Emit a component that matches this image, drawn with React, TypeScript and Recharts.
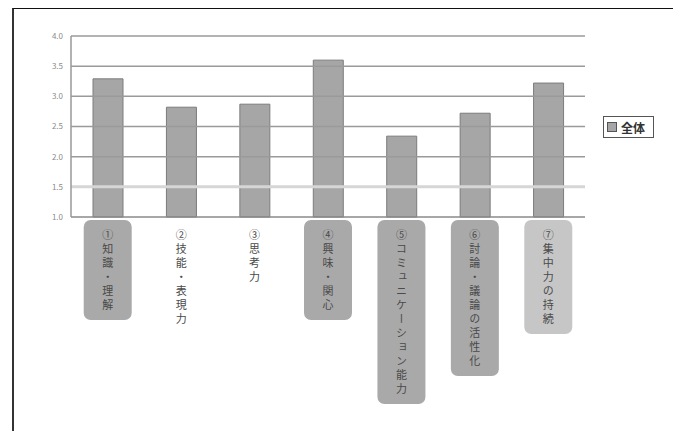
import React from 'react';
import { BarChart, Bar, XAxis, YAxis, ReferenceLine } from 'recharts';

// 評価項目と平均値（全体）
const categories = [
  '①知識・理解',
  '②技能・表現力',
  '③思考力',
  '④興味・関心',
  '⑤コミュニケーション能力',
  '⑥討論・議論の活性化',
  '⑦集中力の持続',
];
const zentai = [3.29, 2.82, 2.87, 3.6, 2.34, 2.72, 3.22];
const yTicks = [1.0, 1.5, 2.0, 2.5, 3.0, 3.5, 4.0];

const data = categories.map((name, i) => ({ name, value: zentai[i] }));

// ラベル枠の塗り（②③は枠なし）
const labelFills = ['#a9a9a9', 'none', 'none', '#a9a9a9', '#a9a9a9', '#a9a9a9', '#c6c6c6'];

const FONT = '"Noto Sans CJK JP", "Noto Sans", sans-serif';

// 縦書きの項目ラベル
const CategoryTick = (props: any) => {
  const { x, y, payload, index } = props;
  const label = String(payload.value);
  const n = Array.from(label).length;
  const h = n * 14 + 16;
  const fill = labelFills[index] ?? 'none';
  return (
    <g>
      {fill !== 'none' && (
        <rect x={x - 24} y={y} width={48} height={h} rx={7} ry={7} fill={fill} />
      )}
      <text
        x={x}
        y={y + 9}
        fontSize={11}
        fontFamily={FONT}
        fill="#4a4a4a"
        style={{ writingMode: 'vertical-rl', letterSpacing: 3 } as any}
      >
        {label}
      </text>
    </g>
  );
};

export default function App() {
  return (
    <div style={{ position: 'absolute', left: 0, top: 0, width: 673, height: 431, background: '#fff' }}>
      <div
        style={{
          position: 'absolute',
          left: 12,
          top: 8,
          width: 661,
          height: 423,
          borderTop: '1.5px solid #111',
          borderLeft: '2px solid #333',
          boxSizing: 'border-box',
        }}
      />
      <div style={{ position: 'absolute', left: 0, top: 0 }}>
        <BarChart
          width={673}
          height={431}
          data={data}
          margin={{ top: 36, right: 88, bottom: 24, left: 31 }}
        >
          <XAxis
            dataKey="name"
            height={190}
            interval={0}
            tickLine={false}
            tickSize={0}
            tickMargin={3}
            axisLine={{ stroke: '#8a8a8a', strokeWidth: 1.5 }}
            tick={<CategoryTick />}
          />
          <YAxis
            width={40}
            domain={[1, 4]}
            ticks={yTicks}
            tickLine={false}
            tickFormatter={(v: number) => v.toFixed(1)}
            tick={{ fontSize: 8, fill: '#8a8a8a', fontFamily: FONT }}
            axisLine={{ stroke: '#999', strokeWidth: 1.5 }}
          />
          {yTicks.slice(1).map((v) => (
            <ReferenceLine
              key={v}
              y={v}
              stroke={v === 1.5 ? '#d6d6d6' : '#9a9a9a'}
              strokeWidth={v === 1.5 ? 3 : 1.5}
            />
          ))}
          <Bar
            dataKey="value"
            name="全体"
            fill="#a6a6a6"
            stroke="#7c7c7c"
            strokeWidth={1}
            barSize={30}
            isAnimationActive={false}
          />
        </BarChart>
      </div>
      {/* 凡例 */}
      <div
        style={{
          position: 'absolute',
          left: 603,
          top: 116,
          display: 'flex',
          alignItems: 'center',
          border: '1px solid #555',
          height: 22,
          width: 51,
          boxSizing: 'border-box',
          padding: '0 3px',
          fontFamily: FONT,
          fontSize: 12,
          fontWeight: 700,
          color: '#333',
          background: '#fff',
        }}
      >
        <span
          style={{
            display: 'inline-block',
            width: 8,
            height: 8,
            background: '#a6a6a6',
            border: '1px solid #555',
            marginRight: 4,
          }}
        />
        全体
      </div>
    </div>
  );
}
